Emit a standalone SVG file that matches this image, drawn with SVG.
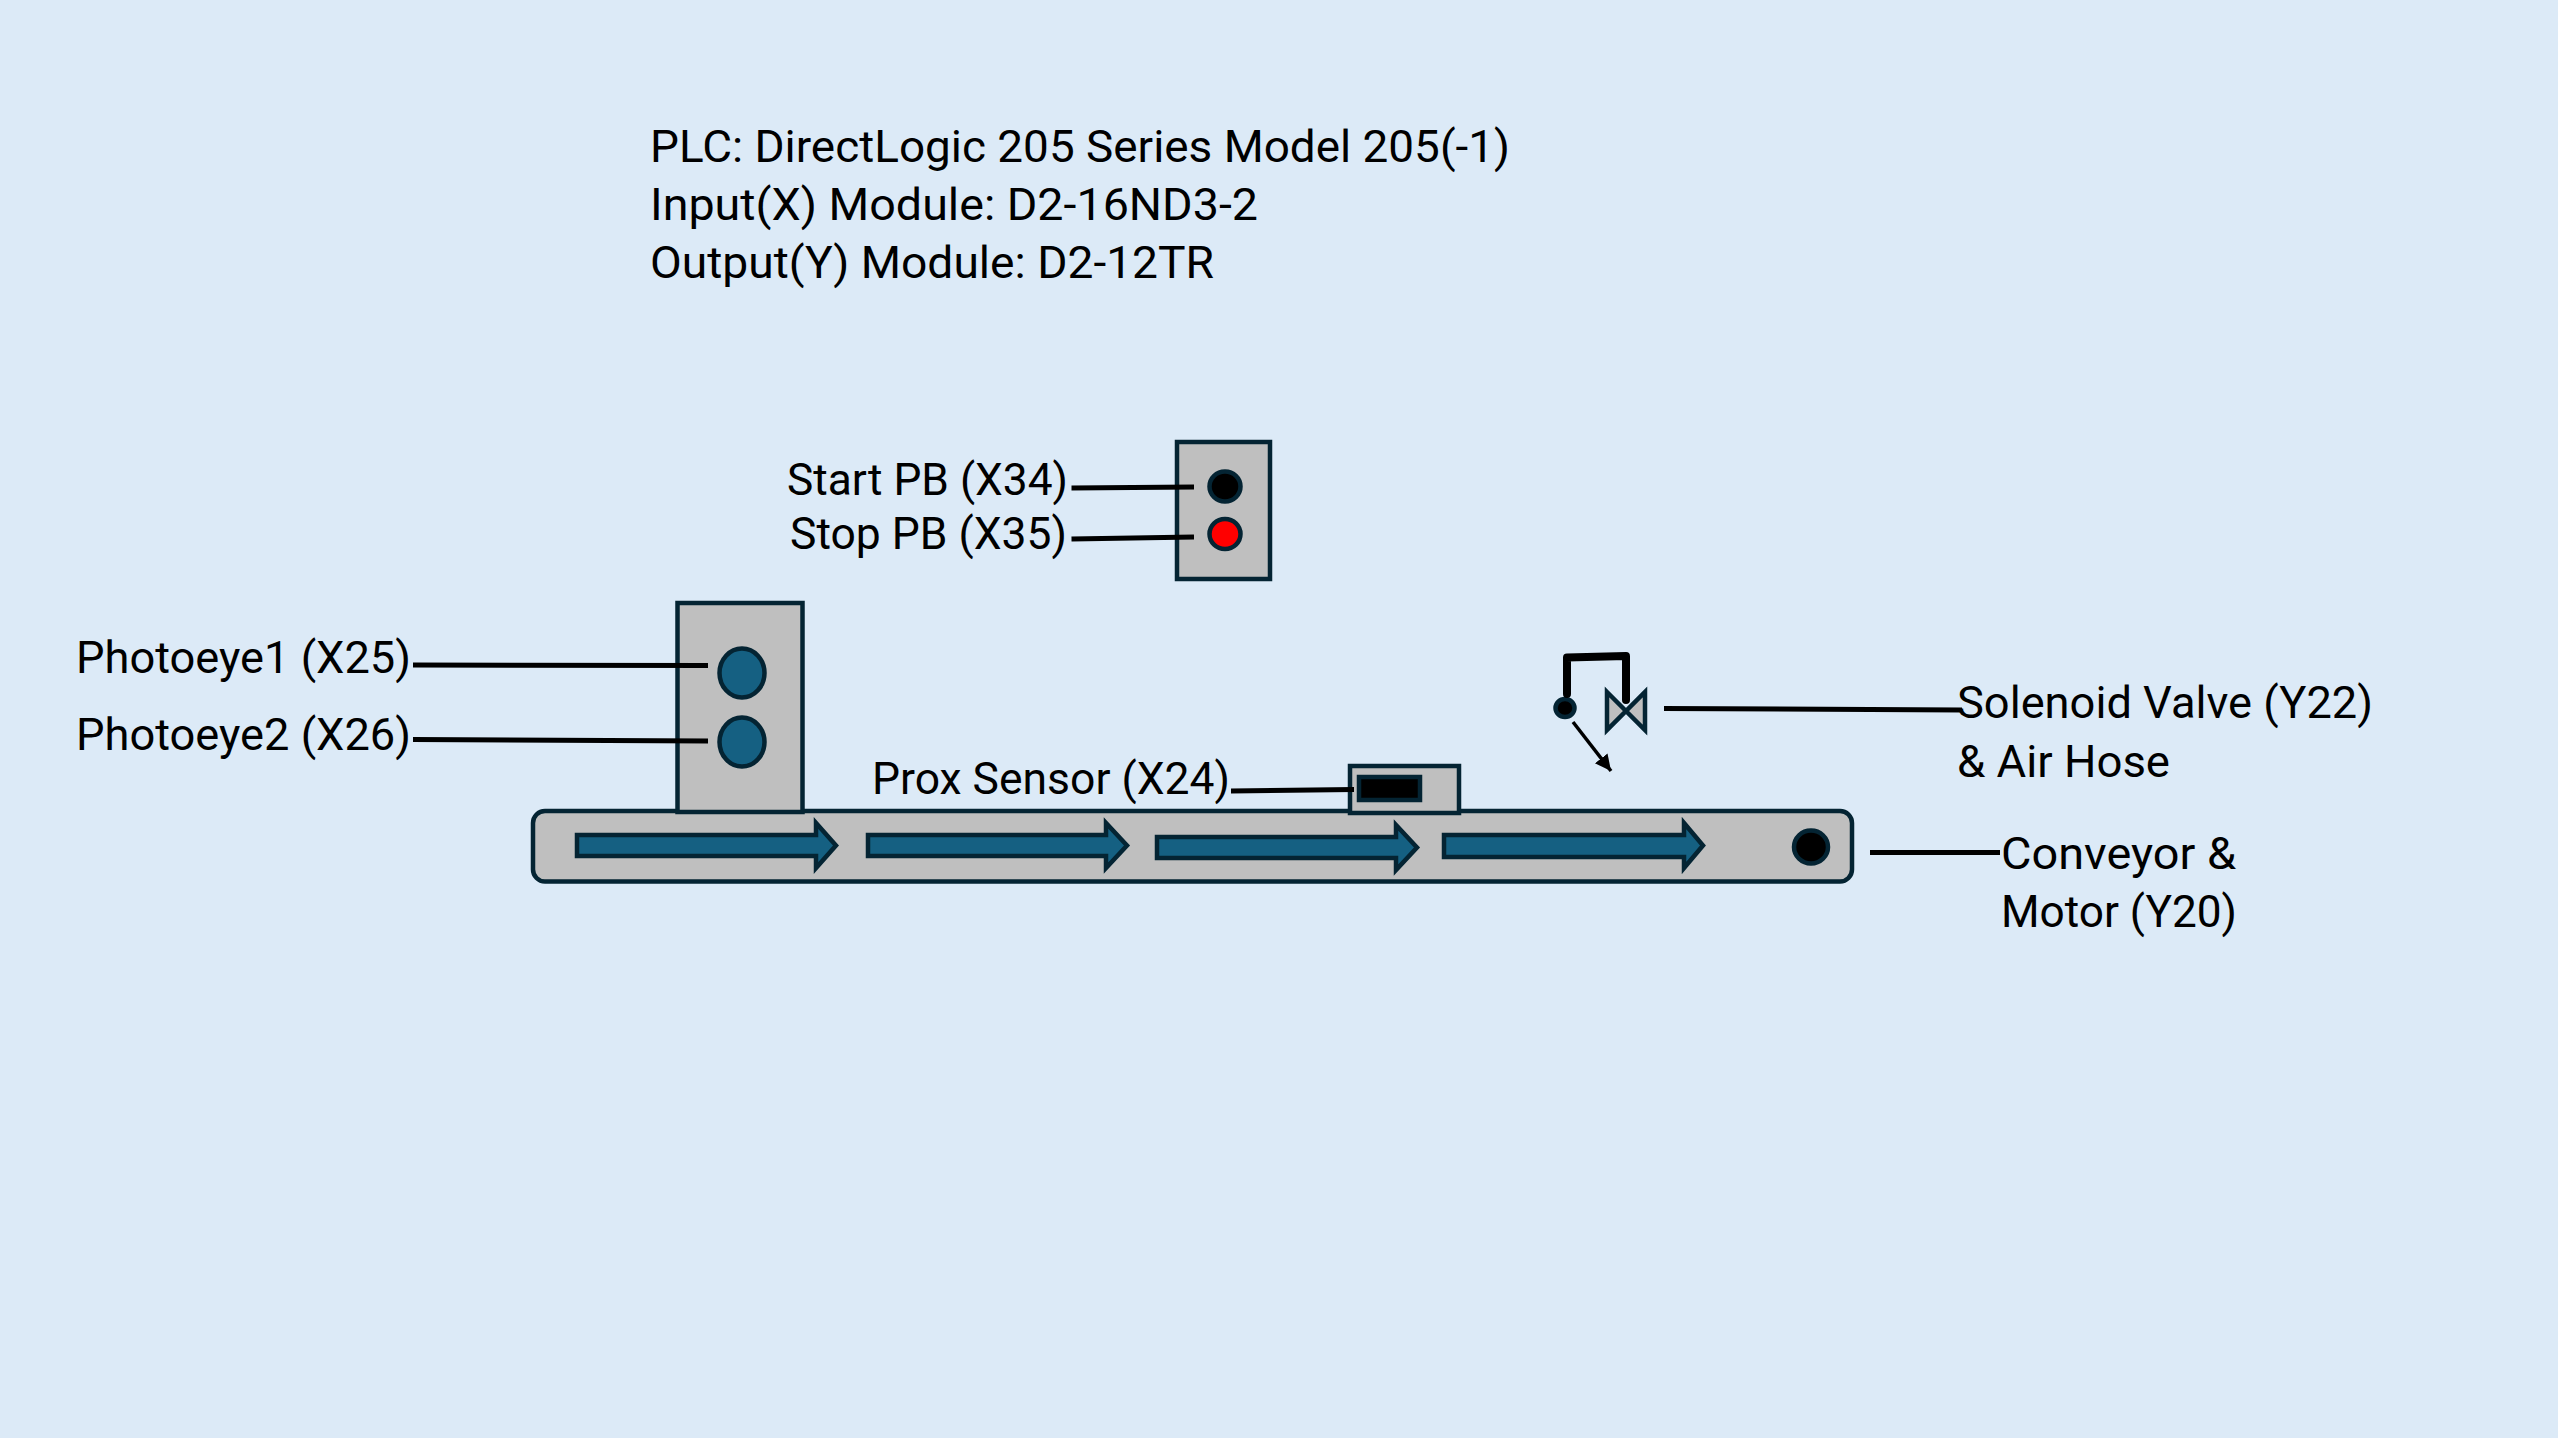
<svg xmlns="http://www.w3.org/2000/svg" width="2558" height="1438" viewBox="0 0 2558 1438">
<style>
text{font-family:Roboto,"Liberation Sans",sans-serif;font-size:44px;fill:#000}
.box{fill:#BFBFBF;stroke:#042433;stroke-width:4.5}
.eye{fill:#156082;stroke:#042433;stroke-width:4.5}
.blk{fill:#000;stroke:#042433;stroke-width:4.5}
.flow{fill:#156082;stroke:#042433;stroke-width:4.5}
.ln{fill:none;stroke:#000;stroke-width:5}
</style>
<defs>
<marker id="ah" markerUnits="userSpaceOnUse" markerWidth="18" markerHeight="18" refX="16" refY="8" orient="auto"><path d="M0 0L16 8L0 16Z" fill="#000"/></marker>
</defs>
<rect width="2558" height="1438" fill="#DCEAF7"/>
<g id="plc-info">
<text x="650" y="162" textLength="860" lengthAdjust="spacingAndGlyphs">PLC: DirectLogic 205 Series Model 205(-1)</text>
<text x="650" y="220" textLength="608" lengthAdjust="spacingAndGlyphs">Input(X) Module: D2-16ND3-2</text>
<text x="650" y="278" textLength="564" lengthAdjust="spacingAndGlyphs">Output(Y) Module: D2-12TR</text>
</g>
<g id="conveyor">
<rect class="box" x="533" y="811" width="1319" height="70.500" rx="12"/>
<path class="flow" d="M577 835H816V823L836 845.500L816 868V856H577Z"/>
<path class="flow" d="M868 835H1106V823L1127 845.500L1106 868V856H868Z"/>
<path class="flow" d="M1157 837H1396V825L1417 847.500L1396 870V858H1157Z"/>
<path class="flow" d="M1444 835H1684V823L1703 845.500L1684 868V857H1444Z"/>
<ellipse class="blk" cx="1811" cy="847" rx="17" ry="16.500"/>
<text x="2001" y="869" textLength="235" lengthAdjust="spacingAndGlyphs">Conveyor &amp;</text>
<text x="2001" y="927" textLength="236" lengthAdjust="spacingAndGlyphs">Motor (Y20)</text>
</g>
<g id="photoeyes">
<rect class="box" x="677.500" y="603" width="125" height="209"/>
<ellipse class="eye" cx="742" cy="673" rx="22.500" ry="24.500"/>
<ellipse class="eye" cx="742" cy="742" rx="22.500" ry="24.500"/>
<text x="76" y="672.500" textLength="335" lengthAdjust="spacingAndGlyphs">Photoeye1 (X25)</text>
<text x="76" y="750" textLength="335" lengthAdjust="spacingAndGlyphs">Photoeye2 (X26)</text>
</g>
<g id="prox-sensor">
<rect class="box" x="1350" y="766" width="109" height="47"/>
<rect class="blk" x="1359" y="777" width="61" height="23"/>
<text x="872" y="794" textLength="358" lengthAdjust="spacingAndGlyphs">Prox Sensor (X24)</text>
</g>
<g id="pushbuttons">
<rect class="box" x="1177" y="442" width="93" height="137"/>
<ellipse class="blk" cx="1225" cy="486.500" rx="15.500" ry="15"/>
<ellipse cx="1225" cy="534" rx="15.500" ry="15" fill="#F00" stroke="#042433" stroke-width="4.500"/>
<text x="787" y="494.500" textLength="281" lengthAdjust="spacingAndGlyphs">Start PB (X34)</text>
<text x="790" y="548.500" textLength="277" lengthAdjust="spacingAndGlyphs">Stop PB (X35)</text>
</g>
<g id="solenoid-valve">
<ellipse class="blk" cx="1565" cy="708" rx="9.500" ry="9"/>
<path d="M1607 692L1645 730V692L1607 730Z" fill="#BFBFBF" stroke="#042433" stroke-width="4.500"/>
<path d="M1567 694V657.500L1626 656V700" fill="none" stroke="#000" stroke-width="8" stroke-linecap="round" stroke-linejoin="round"/>
<text x="1957" y="717.500" textLength="416" lengthAdjust="spacingAndGlyphs">Solenoid Valve (Y22)</text>
<text x="1957" y="776.500" textLength="213" lengthAdjust="spacingAndGlyphs">&amp; Air Hose</text>
</g>
<g id="connectors">
<path class="ln" d="M413 665L708 665.500"/>
<path class="ln" d="M413 739.500L708 741"/>
<path class="ln" d="M1231 791L1354 789.500"/>
<path class="ln" d="M1071.500 488L1194 487"/>
<path class="ln" d="M1071.500 539L1194 537"/>
<path class="ln" d="M1664 708.500L1962 710"/>
<path class="ln" d="M1870 852.500H2000"/>
<path class="ln" style="stroke-width:3.500" d="M1573 722L1611 771" marker-end="url(#ah)"/>
</g>
</svg>
